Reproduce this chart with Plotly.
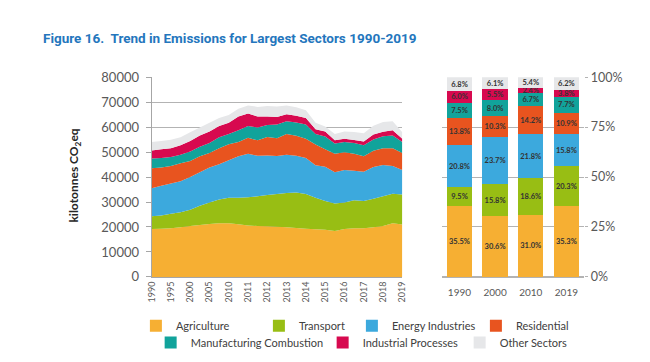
import plotly.graph_objects as go

# ---------------- data ----------------
# area chart: readings at half-step periods between labelled ticks
period = [0, 0.5, 1, 1.5, 2, 2.5, 3, 3.5, 4, 4.5, 5, 5.5, 6, 6.5, 7, 7.5,
          8, 8.5, 9, 9.5, 10, 10.5, 11, 11.5, 12, 12.5, 13]
tick_index = [0, 1, 2, 3, 4, 5, 6, 7, 8, 9, 10, 11, 12, 13]
year_labels = ["1990", "1995", "2000", "2005", "2010", "2011", "2012", "2013",
               "2014", "2015", "2016", "2017", "2018", "2019"]

agriculture = [19200, 19300, 19500, 19900, 20400, 20800, 21200, 21500, 21500, 21100, 20600, 20400, 20300, 20100,
               19900, 19600, 19300, 19100, 18900, 18400, 19200, 19500, 19500, 19900, 20400, 21500, 21000]
transport = [5100, 5300, 5800, 6000, 6500, 7700, 8600, 9500, 10200, 10600, 11300, 11900, 12500, 13100,
             13700, 14200, 13900, 12600, 11500, 11000, 10600, 11200, 10900, 11400, 11900, 11800, 12000]
energy = [11200, 11900, 12100, 12400, 13100, 13400, 14000, 14100, 15000, 16600, 17400, 16200, 15800, 15200,
          15300, 14700, 14400, 13000, 13700, 12500, 13000, 11800, 11700, 12700, 12500, 11100, 9800]
residential = [8000, 7300, 7000, 7200, 6400, 6400, 5800, 6400, 6400, 5700, 6400, 6200, 7400, 7100,
               8300, 8000, 7700, 8300, 7000, 7400, 7100, 6800, 6200, 6500, 6700, 7100, 6800]
manufacturing = [3900, 3800, 3600, 3400, 3800, 3800, 4000, 4400, 4100, 4700, 4700, 5100, 4800, 5500,
                 5100, 5300, 5700, 4200, 5100, 4100, 4100, 4300, 4400, 4500, 4800, 5100, 4400]
industrial = [3200, 3500, 3500, 3800, 4200, 4500, 4600, 4500, 4500, 5500, 5100, 4400, 3400, 3000,
              2900, 2700, 2600, 1900, 2000, 1300, 1300, 1200, 1500, 2000, 1800, 2100, 1300]
other = [3400, 3300, 3400, 3200, 3500, 3200, 3500, 3200, 3200, 3200, 3200, 3900, 4300, 4300,
         3500, 3500, 3200, 2600, 2000, 2500, 2900, 3200, 3300, 3500, 3900, 3600, 2600]

# share chart
bar_years = ["1990", "2000", "2010", "2019"]
agriculture_pct = [35.5, 30.6, 31.0, 35.3]
transport_pct = [9.5, 15.8, 18.6, 20.3]
energy_pct = [20.8, 23.7, 21.8, 15.8]
residential_pct = [13.8, 10.3, 14.2, 10.9]
manufacturing_pct = [7.5, 8.0, 6.7, 7.7]
industrial_pct = [6.0, 5.5, 2.4, 3.8]
other_pct = [6.8, 6.1, 5.4, 6.2]

sectors = ["Agriculture", "Transport", "Energy Industries", "Residential",
           "Manufacturing Combustion", "Industrial Processes", "Other Sectors"]
colors = ["#F6AF33", "#98BE14", "#3CA9DD", "#E8541F", "#11A39B", "#D7094F", "#E6E7E9"]
area_values = [agriculture, transport, energy, residential, manufacturing, industrial, other]
pct_values = [agriculture_pct, transport_pct, energy_pct, residential_pct,
              manufacturing_pct, industrial_pct, other_pct]
legend_ids = ["legend", "legend", "legend", "legend", "legend2", "legend2", "legend2"]
legend_w = [78, 48, 79, 60, 127, 92, 70]

FONT = "Lato"
GREY = "#595959"

fig = go.Figure()

for name, vals, col in zip(sectors, area_values, colors):
    fig.add_trace(go.Scatter(
        x=period, y=vals, name=name, stackgroup="one", mode="none",
        fillcolor=col, line=dict(width=0), showlegend=False,
        xaxis="x", yaxis="y", hoverinfo="x+y+name"))

for name, vals, col, lg, lw in zip(sectors, pct_values, colors, legend_ids, legend_w):
    fig.add_trace(go.Bar(
        x=bar_years, y=vals, name=name, marker=dict(color=col, line=dict(width=0)),
        texttemplate="%{y:.1f}%", textposition="inside", insidetextanchor="middle",
        textangle=0, textfont=dict(family=FONT, size=7.5, color="#333333", weight="bold"),
        xaxis="x2", yaxis="y2", legend=lg, legendwidth=lw, showlegend=True))

ydom = [(362 - 273) / 362, (362 - 64) / 362]

fig.update_layout(
    width=650, height=362,
    margin=dict(l=0, r=0, t=0, b=0),
    paper_bgcolor="white", plot_bgcolor="white",
    barmode="stack", bargap=0.284,
    uniformtext=dict(minsize=7.5, mode="show"),
    font=dict(family=FONT, color=GREY),
    xaxis=dict(domain=[140 / 650, 395 / 650], range=[0, 13],
               tickmode="array", tickvals=tick_index, ticktext=year_labels,
               tickangle=-90, tickfont=dict(size=9, color=GREY),
               showgrid=False, zeroline=False, showline=True, linecolor="#A6A6A6",
               linewidth=1, anchor="y"),
    yaxis=dict(domain=ydom, range=[0, 80000], dtick=10000, tickformat="d",
               tickfont=dict(size=13, color=GREY), gridcolor="#B3B3B3", gridwidth=1,
               zeroline=False, showline=True, linecolor="#A6A6A6", ticks="outside",
               ticklen=5, tickcolor="#A6A6A6", ticklabelstandoff=4, anchor="x"),
    xaxis2=dict(domain=[435 / 650, 580 / 650], type="category",
                tickfont=dict(size=10, color=GREY), showgrid=False, zeroline=False,
                ticks="outside", ticklen=6, tickcolor="rgba(0,0,0,0)", anchor="y2"),
    yaxis2=dict(domain=ydom, range=[0, 100], dtick=25, ticksuffix="%", side="right",
                tickfont=dict(size=12.5, color=GREY), gridcolor="#B3B3B3", gridwidth=1,
                zeroline=True, zerolinecolor="#B3B3B3", ticks="outside", ticklen=3,
                tickcolor="#B3B3B3", anchor="x2"),
    legend=dict(orientation="h", x=124 / 650, xanchor="left", y=(362 - 324) / 362,
                yanchor="middle", font=dict(size=11, color="#404040", family=FONT),
                traceorder="normal", bgcolor="rgba(0,0,0,0)"),
    legend2=dict(orientation="h", x=139 / 650, xanchor="left", y=(362 - 341.7) / 362,
                 yanchor="middle", font=dict(size=11, color="#404040", family=FONT),
                 traceorder="normal", bgcolor="rgba(0,0,0,0)"),
    title=dict(text="Figure 16.  Trend in Emissions for Largest Sectors 1990-2019",
               x=35 / 650, xanchor="left", y=(362 - 30) / 362, yanchor="middle",
               font=dict(family="Roboto", size=13.5, color="#2476BD", weight="bold")),
    annotations=[dict(text="kilotonnes CO<sub>2</sub>eq", textangle=-90,
                      x=62 / 650, y=(362 - 167) / 362, xref="paper", yref="paper",
                      xanchor="center", yanchor="middle", showarrow=False,
                      font=dict(family=FONT, size=12, color="#262626", weight="bold"))],
)

fig.write_html("out.html")
